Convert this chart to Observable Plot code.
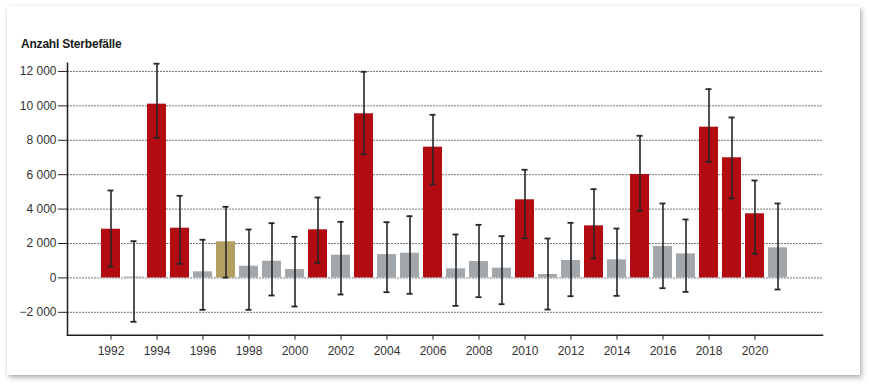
<!DOCTYPE html>
<html>
<head>
<meta charset="utf-8">
<script src="https://cdn.jsdelivr.net/npm/d3@7"></script>
<script src="https://cdn.jsdelivr.net/npm/@observablehq/plot@0.6"></script>
<style>
  html, body { margin: 0; padding: 0; background: #fff; }
  body { width: 872px; height: 387px; position: relative; overflow: hidden; font-family: "Liberation Sans", Arial, sans-serif; }
  #card { position: absolute; left: 7px; top: 6px; width: 853px; height: 369px; background: #fff;
          box-shadow: 2px 3px 5px rgba(0,0,0,0.28), 0 0 2px rgba(0,0,0,0.12); }
  #title { position: absolute; left: 14px; top: 31px; font-size: 12px; font-weight: bold; color: #1a1a1a; letter-spacing: -0.2px; }
  #chart { position: absolute; left: 0; top: 49px; }
</style>
</head>
<body>
<div id="card">
  <div id="title">Anzahl Sterbefälle</div>
  <div id="chart"></div>
</div>
<script>
const years = d3.range(1992, 2022);
const deaths = [2830, 50, 10100, 2890, 354, 2100, 680, 971, 488, 2796, 1320, 9540, 1355, 1436, 7600, 529, 953, 565, 4540, 198, 1012, 3027, 1050, 6012, 1826, 1400, 8762, 6983, 3727, 1750];
const lower  = [660, -2550, 8145, 820, -1855, 20, -1855, -1023, -1663, 878, -965, 7192, -831, -924, 5430, -1623, -1120, -1527, 2310, -1837, -1062, 1128, -1043, 3900, -597, -810, 6750, 4616, 1400, -674];
const upper  = [5080, 2134, 12450, 4773, 2215, 4134, 2814, 3180, 2389, 4674, 3261, 11982, 3238, 3587, 9482, 2523, 3085, 2426, 6285, 2290, 3202, 5157, 2870, 8262, 4326, 3395, 10971, 9326, 5663, 4326];
const group  = ["rot","grau","rot","rot","grau","oliv","grau","grau","grau","rot","grau","rot","grau","grau","rot","grau","grau","grau","rot","grau","grau","rot","grau","rot","grau","grau","rot","rot","rot","grau"];
const groupNames = ["rot", "grau", "oliv"];
const groupColors = ["#b20c12", "#a2a7ac", "#b2a062"];
const yTicks = [-2000, 0, 2000, 4000, 6000, 8000, 10000, 12000];
const xTicks = d3.range(1992, 2021, 2);

const data = years.map((year, i) => ({year, value: deaths[i], lo: lower[i], hi: upper[i], group: group[i]}));

const loc = d3.formatLocale({decimal: ",", thousands: "\u2009", grouping: [3], currency: ["", ""], minus: "\u2212"});
const fmt = loc.format(",d");
const fmtY = d => fmt(d).replace("\u2009", " ");

const chart = Plot.plot({
  width: 853,
  height: 315,
  marginLeft: 60,
  marginRight: 38,
  marginTop: 7.7,
  marginBottom: 35.3,
  style: {fontFamily: "'Liberation Sans', Arial, sans-serif", fontSize: "12px", color: "#333", background: "transparent"},
  x: {type: "band", domain: years, paddingInner: 0.155, paddingOuter: 1.4475, align: 0.5, label: null},
  y: {domain: [-3330, 12480], label: null},
  color: {domain: groupNames, range: groupColors},
  marks: [
    Plot.gridY(yTicks, {stroke: "#777", strokeOpacity: 1, strokeWidth: 1, strokeDasharray: "2,1"}),
    Plot.barY(data, {x: "year", y: "value", fill: "group"}),
    Plot.ruleX(data, {x: "year", y1: "lo", y2: "hi", stroke: "#262626", strokeWidth: 1.6}),
    Plot.tickY(data, {x: "year", y: "lo", stroke: "#262626", strokeWidth: 1.8, insetLeft: 6.5, insetRight: 6.5}),
    Plot.tickY(data, {x: "year", y: "hi", stroke: "#262626", strokeWidth: 1.8, insetLeft: 6.5, insetRight: 6.5}),
    Plot.axisY(yTicks, {tickSize: 9, tickPadding: 2, tickFormat: fmtY, stroke: "#262626", fill: "#333", fontSize: 12}),
    Plot.axisX(xTicks, {tickSize: 5, tickPadding: 6, tickFormat: d => String(d), stroke: "#262626", fill: "#333", fontSize: 12}),
    Plot.frame({anchor: "left", stroke: "#1e1e1e", strokeWidth: 1.5}),
    Plot.frame({anchor: "bottom", stroke: "#1e1e1e", strokeWidth: 1.5})
  ]
});
document.getElementById("chart").appendChild(chart);
</script>
</body>
</html>
